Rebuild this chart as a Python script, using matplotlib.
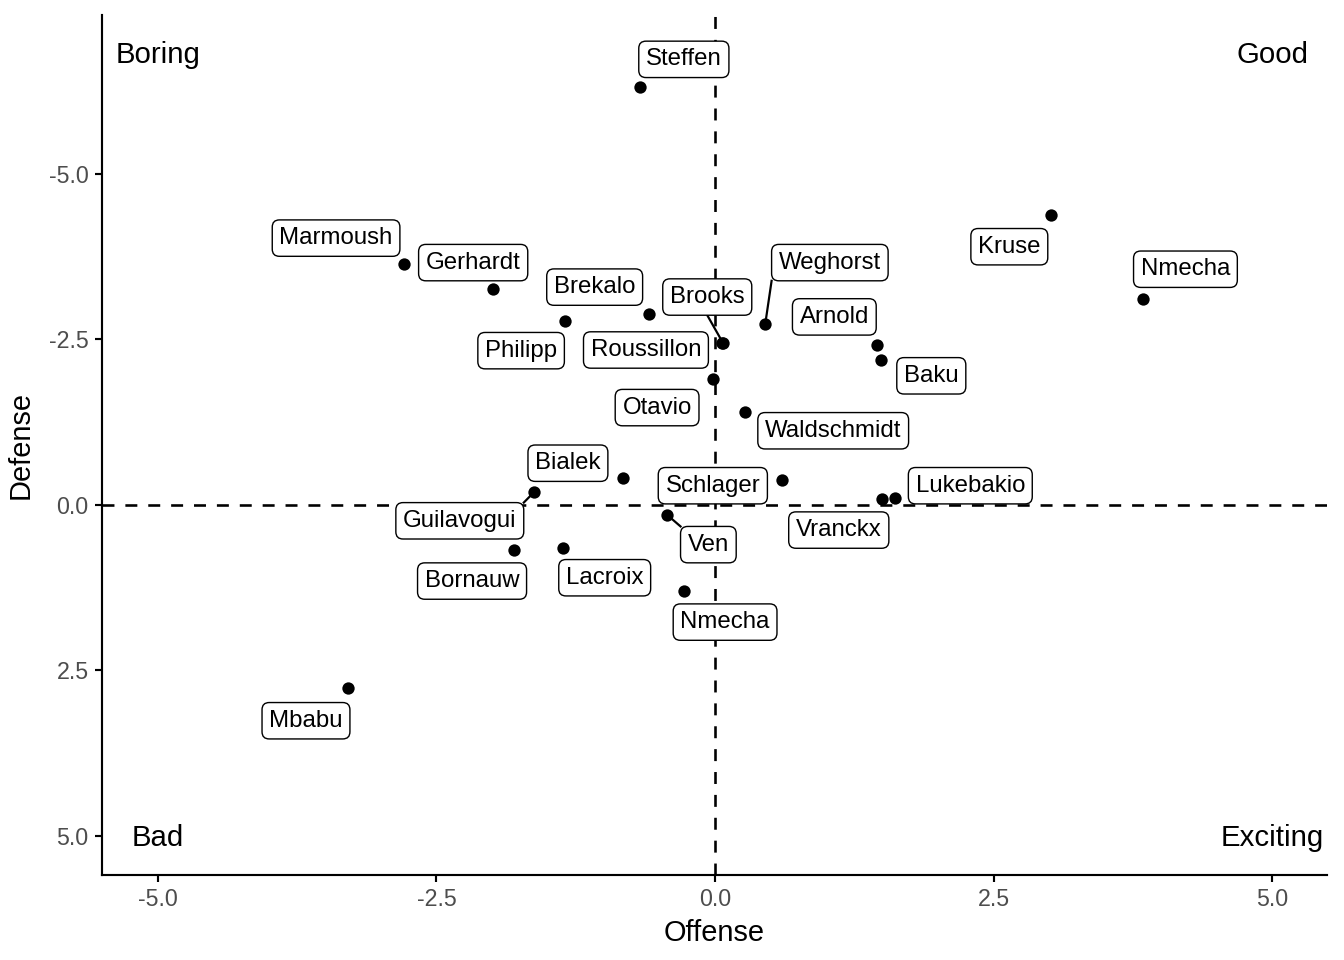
import matplotlib.pyplot as plt
import numpy as np

players = ['Steffen', 'Marmoush', 'Gerhardt', 'Brekalo', 'Philipp', 'Brooks',
           'Roussillon', 'Weghorst', 'Arnold', 'Baku', 'Kruse', 'Nmecha',
           'Otavio', 'Waldschmidt', 'Bialek', 'Guilavogui', 'Bornauw', 'Lacroix',
           'Schlager', 'Ven', 'Nmecha', 'Lukebakio', 'Vranckx', 'Mbabu']
offense = [-0.67, -2.79, -1.99, -0.59, -1.35, 0.07,
           0.06, 0.45, 1.45, 1.49, 3.01, 3.84,
           -0.02, 0.27, -0.83, -1.62, -1.80, -1.36,
           0.60, -0.43, -0.28, 1.61, 1.50, -3.29]
defense = [-6.31, -3.64, -3.26, -2.89, -2.78, -2.45,
           -2.44, -2.73, -2.42, -2.19, -4.38, -3.11,
           -1.90, -1.41, -0.41, -0.20, 0.68, 0.65,
           -0.38, 0.15, 1.30, -0.10, -0.09, 2.76]
# repelled label spots (data units)
lab_x = [-0.28, -3.40, -2.17, -1.08, -1.74, -0.07,
         -0.62, 1.03, 1.07, 1.94, 2.64, 4.22,
         -0.52, 1.06, -1.32, -2.29, -2.18, -0.99,
         -0.02, -0.06, 0.09, 2.29, 1.11, -3.67]
lab_y = [-6.73, -4.03, -3.66, -3.29, -2.33, -3.14,
         -2.34, -3.66, -2.84, -1.95, -3.90, -3.56,
         -1.47, -1.12, -0.63, 0.24, 1.15, 1.10,
         -0.29, 0.60, 1.77, -0.29, 0.38, 3.26]
with_segment = ['Brooks', 'Weghorst', 'Guilavogui', 'Ven']

quad_text = ['Boring', 'Good', 'Bad', 'Exciting']
quad_x = [-5, 5, -5, 5]
quad_y = [-6.8, -6.8, 5.03, 5.03]

plt.rcParams['font.family'] = ['Liberation Sans', 'DejaVu Sans']

fig = plt.figure(figsize=(1344/144, 960/144), dpi=144)
ax = fig.add_axes([102/1344, 1-875/960, (1327-102)/1344, (875-15)/960])

ax.axhline(0, color='black', lw=1.3, dashes=(4.6, 4.2), zorder=1)
ax.axvline(0, color='black', lw=1.3, dashes=(4.6, 4.2), zorder=1)

ax.scatter(offense, defense, s=38, color='black', zorder=3, linewidths=0)

ax.set_xlim(-5.5, 5.49)
ax.set_ylim(5.59, -7.40)

labels = []
for i, name in enumerate(players):
    bbox = dict(boxstyle='round,pad=0.3,rounding_size=0.3', fc='white', ec='black', lw=0.7)
    t = ax.text(lab_x[i], lab_y[i], name, ha='center', va='center',
                fontsize=12, bbox=bbox, zorder=4)
    labels.append(t)

# segment ends at the closest corner / edge midpoint of the label box
fig.canvas.draw()
inv = ax.transData.inverted()
for i, t in enumerate(labels):
    if players[i] not in with_segment:
        continue
    ext = t.get_bbox_patch().get_window_extent()
    xs = [ext.x0, (ext.x0 + ext.x1) / 2, ext.x1]
    ys = [ext.y0, (ext.y0 + ext.y1) / 2, ext.y1]
    cand = np.array([[cx, cy] for cx in xs for cy in ys])
    px, py = ax.transData.transform((offense[i], defense[i]))
    best = cand[np.argmin(np.hypot(cand[:, 0] - px, cand[:, 1] - py))]
    ex, ey = inv.transform(best)
    ax.plot([offense[i], ex], [defense[i], ey], color='black', lw=1.1, zorder=2)

for t, x, y in zip(quad_text, quad_x, quad_y):
    ax.text(x, y, t, ha='center', va='center', fontsize=14.7)

ticks = [-5, -2.5, 0, 2.5, 5]
ax.set_xticks(ticks)
ax.set_xticklabels(['-5.0', '-2.5', '0.0', '2.5', '5.0'])
ax.set_yticks(ticks)
ax.set_yticklabels(['-5.0', '-2.5', '0.0', '2.5', '5.0'])
ax.tick_params(labelsize=11.6, labelcolor='#4D4D4D', length=3.7, width=1.07, pad=3)
for s in ['top', 'right']:
    ax.spines[s].set_visible(False)
for s in ['left', 'bottom']:
    ax.spines[s].set_linewidth(1.07)
ax.set_xlabel('Offense', fontsize=14.5, labelpad=4)
ax.set_ylabel('Defense', fontsize=14.5, labelpad=7)

fig.savefig('out.png', dpi=144)
